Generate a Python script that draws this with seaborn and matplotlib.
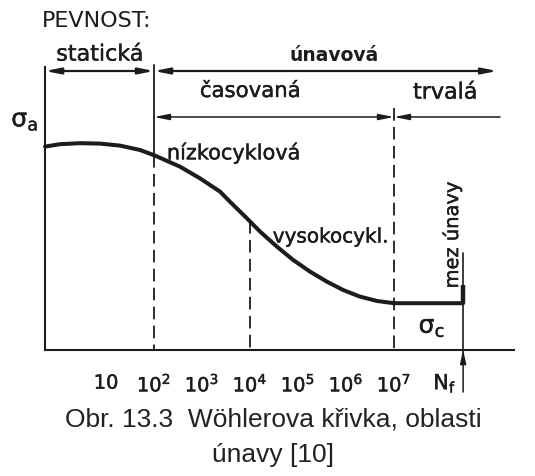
## IMPORTS
import numpy as np
import pandas as pd

import matplotlib
matplotlib.use('Agg')
import matplotlib.pyplot as plt
import matplotlib.patheffects as pe
import seaborn as sns

## DATA
# x is log10(N), y is stress amplitude (arbitrary units)
curve_logn = [-0.27, 0.04, 0.46, 0.875, 1.29, 1.71, 2.02, 2.54, 2.96, 3.375, 3.58, 3.90,
              4.21, 4.56, 4.90, 5.25, 5.60, 5.94, 6.29, 6.65, 7.0, 8.44]
curve_sigma = [101.7, 102.9, 103.4, 103.2, 102.2, 100, 97.2, 91.7, 85.8, 79.2, 74.2, 66.7,
               59.2, 51.7, 45, 39.2, 34.2, 30, 26.7, 24.5, 23.4, 23.4]

tick_logn = [1, 2, 3, 4, 5, 6, 7]
tick_labels = ['10', '$\\mathregular{10^{2}}$', '$\\mathregular{10^{3}}$', '$\\mathregular{10^{4}}$',
               '$\\mathregular{10^{5}}$', '$\\mathregular{10^{6}}$', '$\\mathregular{10^{7}}$']

# region boundaries (log10 N)
axis_start = -0.27
static_end = 2        # statická | únavová
lcf_end = 4           # nízkocyklová | vysokocykl.
timed_end = 7         # časovaná | trvalá
n_f = 8.44
axis_end = 9.5

caption = ['Obr. 13.3  Wöhlerova křivka, oblasti', 'únavy [10]']

## STYLE
sns.set_style('white')
plt.rcParams['font.family'] = ['DejaVu Sans']
ink = '#1c1c1c'
bold_fx = [pe.withStroke(linewidth=0.3, foreground=ink)]

fig = plt.figure(figsize=(5.35, 4.76), dpi=100)
ax = fig.add_axes([0, 0, 1, 1])
ax.set_facecolor('white')

# curve
df = pd.DataFrame({'logn': curve_logn, 'sigma': curve_sigma})
sns.lineplot(data=df, x='logn', y='sigma', ax=ax, color=ink, linewidth=2.9,
             sort=False, estimator=None, solid_joinstyle='round')

# axes as spines
ax.spines['top'].set_visible(False)
ax.spines['right'].set_visible(False)
ax.spines['left'].set_position(('data', axis_start))
ax.spines['bottom'].set_position(('data', 0))
ax.spines['left'].set_bounds(0, 141.5)
ax.spines['bottom'].set_bounds(axis_start, axis_end)
for s in ['left', 'bottom']:
    ax.spines[s].set_color(ink)
    ax.spines[s].set_linewidth(1.5)

ax.set_xlim(-1.208, 9.9375)
ax.set_ylim(-63, 175)
ax.set_xticks(tick_logn)
ax.set_xticklabels(tick_labels, fontsize=14, color=ink, family='Liberation Sans Narrow')
for lab in ax.get_xticklabels():
    lab.set_path_effects(bold_fx)
ax.tick_params(axis='x', direction='in', length=5, width=1.3, color=ink, pad=17)
ax.set_yticks([])
ax.set_xlabel('')
ax.set_ylabel('')

# vertical boundary lines
sig_at = lambda x: np.interp(x, curve_logn, curve_sigma)
dash = (0, (7, 3.5))
ax.plot([static_end, static_end], [142.5, sig_at(static_end)], color=ink, lw=1.3)
ax.plot([static_end, static_end], [sig_at(static_end), 0], color=ink, lw=1.3, ls=dash)
ax.plot([lcf_end, lcf_end], [sig_at(lcf_end), 0], color=ink, lw=1.3, ls=dash)
ax.plot([timed_end, timed_end], [121, 0], color=ink, lw=1.3, ls=dash)
ax.plot([n_f, n_f], [48.5, -2], color=ink, lw=1.2)
ax.plot([n_f, n_f], [sig_at(n_f), 32.5], color=ink, lw=3.2, solid_capstyle='butt')

# region arrows
def arrow(x0, x1, y, style, lw):
    ax.annotate('', xy=(x1, y), xytext=(x0, y),
                arrowprops=dict(arrowstyle=style, color=ink, lw=lw,
                                shrinkA=0, shrinkB=0))

row1, row2 = 139.5, 116.5
arrow(axis_start, static_end, row1, '<|-|>,head_length=0.9,head_width=0.18', 1.6)
arrow(static_end, 9.15, row1, '<|-|>,head_length=0.9,head_width=0.18', 1.6)
arrow(static_end, timed_end, row2, '<|-|>,head_length=0.9,head_width=0.18', 1.1)
arrow(timed_end, 9.21, row2, '<|-,head_length=0.9,head_width=0.18', 1.1)
# N_f arrow from below
ax.annotate('', xy=(n_f, 0), xytext=(n_f, -21),
            arrowprops=dict(arrowstyle='-|>,head_length=0.8,head_width=0.18',
                            color=ink, lw=1.1, shrinkA=0, shrinkB=0))

# labels
def label(x, y, s, size, heavy=True, **kw):
    t = ax.text(x, y, s, color=ink, fontsize=size, va='center',
                ha=kw.pop('ha', 'center'), **kw)
    if heavy:
        t.set_path_effects(bold_fx)
    return t

label(-0.33, 164.7, 'PEVNOST:', 16, heavy=False, ha='left')
label(0.875, 147.7, 'statická', 16)
label(5.76, 147.2, 'únavová', 13.5, heavy=False, fontweight='bold')
label(4.0, 129.5, 'časovaná', 15.3)
label(8.07, 128.7, 'trvalá', 16)
label(-0.69, 114.7, r'$\mathregular{\sigma_a}$', 18)
label(3.66, 98.7, 'nízkocyklová', 15)
label(5.68, 56.5, 'vysokocykl.', 14.4)
label(7.79, 11.5, r'$\mathregular{\sigma_c}$', 18)
label(8.21, 57.5, 'mez únavy', 14, rotation=90)
label(8.06, -16.5, r'$\mathregular{N_f}$', 15)

# caption
for i, line in enumerate(caption):
    ax.text(4.48, [-35, -52.5][i], line, ha='center', va='center', color='#222222',
            fontsize=19, family='Liberation Sans')

fig.savefig('out.png', dpi=100, facecolor='white')
